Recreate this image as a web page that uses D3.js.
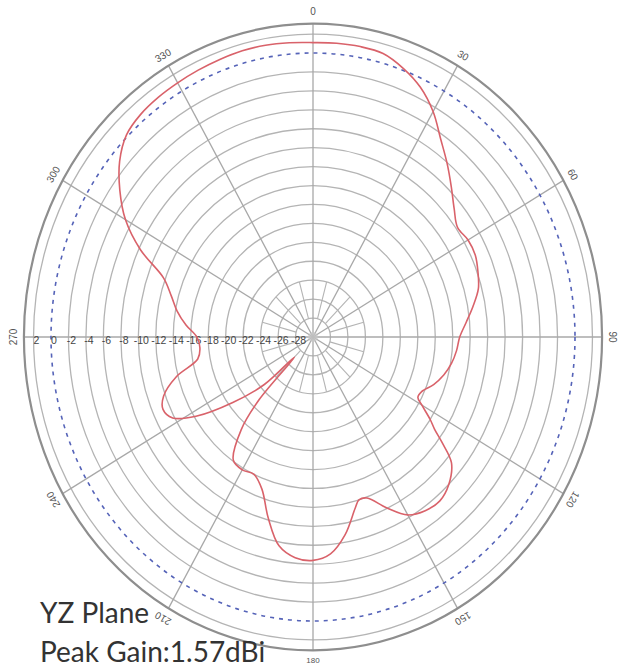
<!DOCTYPE html>
<html>
<head>
<meta charset="utf-8">
<script src="https://cdn.jsdelivr.net/npm/d3@7/dist/d3.min.js"></script>
<style>
  html,body{margin:0;padding:0;background:#fff;}
  svg{display:block;}
</style>
</head>
<body>
<svg id="chart" width="619" height="670"></svg>
<script>
// ---- data ----
const angleTicks = [0, 30, 60, 90, 120, 150, 180, 210, 240, 270, 300, 330];
const angleLabels = ["0", "30", "60", "90", "120", "150", "180", "210", "240", "270", "300", "330"];
const ringValues = [-28, -26, -24, -22, -20, -18, -16, -14, -12, -10, -8, -6, -4, -2, 2];
const radialTickValues = [2, 0, -2, -4, -6, -8, -10, -12, -14, -16, -18, -20, -22, -24, -26, -28];
const radialTickLabels = ["2", "0", "-2", "-4", "-6", "-8", "-10", "-12", "-14", "-16", "-18", "-20", "-22", "-24", "-26", "-28"];
const patternAngles = [0, 5, 10, 15, 20, 25, 30, 35, 40, 45, 50, 55, 60, 65, 70, 75, 80, 85, 90, 95, 100, 105, 110, 115, 118, 120, 123, 125, 127, 130, 135, 140, 145, 150, 155, 160, 163, 165, 170, 175, 180, 185, 190, 195, 200, 205, 210, 215, 220, 223, 225, 228, 233, 238, 242, 246, 250, 255, 260, 265, 270, 275, 280, 285, 290, 295, 300, 305, 310, 315, 320, 325, 330, 335, 340, 345, 350, 355];
const patternGain = [1.1, 1.15, 1.15, 1.0, 0.2, -0.9, -2.5, -4.5, -6.1, -7.6, -8.9, -9.8, -9.5, -9.5, -9.9, -10.4, -11.4, -12.4, -13.2, -13.5, -13.9, -14.5, -15.3, -16.3, -16.4, -15.6, -14.0, -13.0, -11.5, -9.3, -8.0, -7.4, -7.6, -8.3, -10.1, -11.9, -12.0, -11.3, -8.8, -7.0, -6.4, -6.6, -7.6, -10.2, -12.9, -14.0, -13.8, -14.1, -17.2, -21, -27, -22.5, -18.5, -14.2, -11.8, -11.2, -11.8, -13.8, -16.6, -17.0, -16.7, -15.4, -14.2, -13.2, -11.8, -8.2, -5.2, -3.0, -1.1, 0.2, 0.7, 0.9, 1.0, 1.1, 1.2, 1.3, 1.3, 1.2];
const titleLines = ["YZ Plane", "Peak Gain:1.57dBi"];

// ---- layout ----
const svg = d3.select("#chart");
const cx = 313, cy = 337;
const rx0 = 262, ry0 = 284;          // pixel radius of the 0 dB ring (horizontal / vertical)
const r = d3.scaleLinear().domain([-30, 0]).range([0, 1]);
const frameDb = 3.1;

function pt(angleDeg, db) {
  const a = angleDeg * Math.PI / 180, k = r(db);
  return [cx + rx0 * k * Math.sin(a), cy - ry0 * k * Math.cos(a)];
}
function ellipse(db) { return {rx: rx0 * r(db), ry: ry0 * r(db)}; }

const grid = svg.append("g");
// rings
grid.selectAll("ellipse.ring").data(ringValues).enter().append("ellipse")
  .attr("cx", cx).attr("cy", cy)
  .attr("rx", d => ellipse(d).rx).attr("ry", d => ellipse(d).ry)
  .attr("fill", "none").attr("stroke", "#b4b4b4").attr("stroke-width", 1.3);

// short inner spokes
const innerSpokes = d3.range(15, 360, 30);
grid.selectAll("line.inner").data(innerSpokes).enter().append("line")
  .attr("x1", d => pt(d, -28)[0]).attr("y1", d => pt(d, -28)[1])
  .attr("x2", d => pt(d, -24)[0]).attr("y2", d => pt(d, -24)[1])
  .attr("stroke", "#b4b4b4").attr("stroke-width", 1.1);

// main spokes
grid.selectAll("line.spoke").data(angleTicks).enter().append("line")
  .attr("x1", cx).attr("y1", cy)
  .attr("x2", d => pt(d, frameDb)[0]).attr("y2", d => pt(d, frameDb)[1])
  .attr("stroke", "#a8a8a8").attr("stroke-width", 1.3);

// center blob
grid.append("circle").attr("cx", cx).attr("cy", cy).attr("r", 5)
  .attr("fill", "#c8c8c8").attr("opacity", 0.7);

// 0 dB dashed ring
grid.append("ellipse").attr("cx", cx).attr("cy", cy)
  .attr("rx", ellipse(0).rx).attr("ry", ellipse(0).ry)
  .attr("fill", "none").attr("stroke", "#5563b8").attr("stroke-width", 1.6)
  .attr("stroke-dasharray", "4,5");

// outer frame
grid.append("ellipse").attr("cx", cx).attr("cy", cy)
  .attr("rx", ellipse(frameDb).rx).attr("ry", ellipse(frameDb).ry)
  .attr("fill", "none").attr("stroke", "#8e8e8e").attr("stroke-width", 2.2);

// radial tick labels along the 270 spoke
svg.append("g").selectAll("text").data(radialTickValues).enter().append("text")
  .attr("x", (d) => pt(270, d)[0] + 3)
  .attr("y", cy + 4)
  .attr("text-anchor", "middle").attr("dominant-baseline", "middle")
  .attr("font-family", "Liberation Sans, Arial, sans-serif").attr("font-size", 10.5)
  .attr("fill", "#444")
  .text((d, i) => radialTickLabels[i]);

// angle labels
svg.append("g").selectAll("text").data(angleTicks).enter().append("text")
  .attr("transform", d => {
    const p = pt(d, frameDb + 1.15);
    const rot = d === 180 ? 0 : d;
    return `translate(${p[0]},${p[1]}) rotate(${rot})`;
  })
  .attr("text-anchor", "middle").attr("dominant-baseline", "middle")
  .attr("font-family", "Liberation Sans, Arial, sans-serif")
  .attr("font-size", d => d === 180 ? 8 : 10)
  .attr("fill", "#555")
  .text((d, i) => angleLabels[i]);

// pattern curve
const pts = patternAngles.map((a, i) => pt(a, patternGain[i]));
svg.append("path")
  .attr("d", d3.line().curve(d3.curveCatmullRomClosed.alpha(0.5))(pts))
  .attr("fill", "none").attr("stroke", "#d9626a").attr("stroke-width", 1.6);

// text
svg.append("g").selectAll("text").data(titleLines).enter().append("text")
  .attr("x", 40).attr("y", (d, i) => 623 + i * 39)
  .attr("font-family", "Lato, 'Open Sans', sans-serif").attr("font-size", 28)
  .attr("fill", "#333")
  .text(d => d);
</script>
</body>
</html>
